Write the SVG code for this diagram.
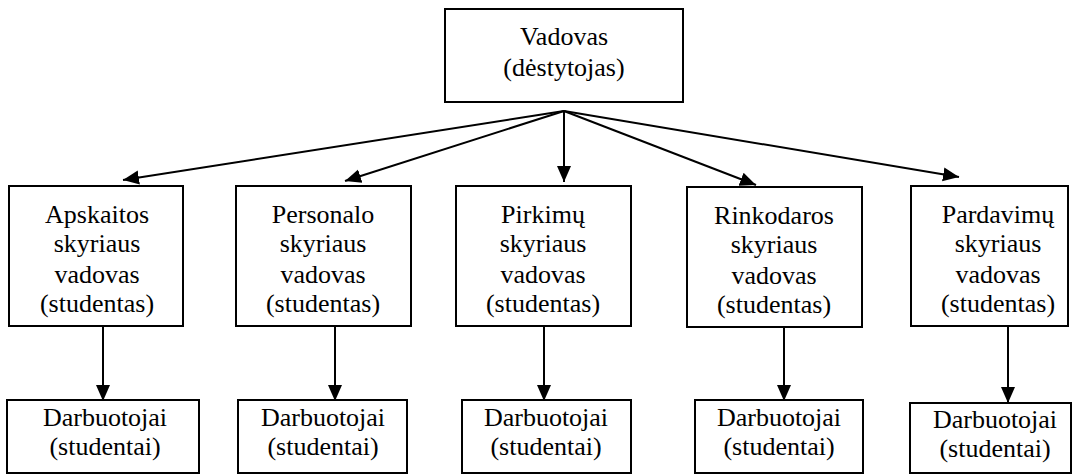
<svg xmlns="http://www.w3.org/2000/svg" width="1074" height="475" viewBox="0 0 1074 475">
<style>
rect{fill:#fff;stroke:#000;stroke-width:2}
text{font-size:26px;fill:#000;text-anchor:middle}
#connectors line{stroke:#000;stroke-width:2}
</style>
<defs>
<marker id="ah" markerUnits="userSpaceOnUse" markerWidth="16" markerHeight="16" viewBox="0 0 16 16" refX="16" refY="8" orient="auto">
<path d="M0,1 L16,8 L0,15 Z" fill="#000"/>
</marker>
</defs>
<rect x="0" y="0" width="1074" height="475" style="stroke:none"/>
<g id="connectors">
<line x1="564" y1="111" x2="123" y2="180" marker-end="url(#ah)"/>
<line x1="564" y1="111" x2="345" y2="181" marker-end="url(#ah)"/>
<line x1="564" y1="111" x2="564" y2="182" marker-end="url(#ah)"/>
<line x1="564" y1="111" x2="756" y2="185" marker-end="url(#ah)"/>
<line x1="564" y1="111" x2="959" y2="177" marker-end="url(#ah)"/>
<line x1="103" y1="326" x2="103" y2="401" marker-end="url(#ah)"/>
<line x1="335" y1="326" x2="335" y2="401" marker-end="url(#ah)"/>
<line x1="544" y1="326" x2="544" y2="401" marker-end="url(#ah)"/>
<line x1="784" y1="327" x2="784" y2="401" marker-end="url(#ah)"/>
<line x1="1008" y1="326" x2="1008" y2="403" marker-end="url(#ah)"/>
</g>
<g font-family="Liberation Serif, serif">
<g id="top"><rect x="445" y="9" width="238" height="93"/><text x="564" y="45">Vadovas</text><text x="564" y="76">(dėstytojas)</text></g>
<g id="m1"><rect x="9" y="186" width="174" height="140"/><text x="97" y="223">Apskaitos</text><text x="97" y="252">skyriaus</text><text x="97" y="283">vadovas</text><text x="97" y="312">(studentas)</text></g>
<g id="m2"><rect x="236" y="186" width="175" height="140"/><text x="323" y="223">Personalo</text><text x="323" y="252">skyriaus</text><text x="323" y="283">vadovas</text><text x="323" y="312">(studentas)</text></g>
<g id="m3"><rect x="456" y="186" width="175" height="140"/><text x="543" y="223">Pirkimų</text><text x="543" y="252">skyriaus</text><text x="543" y="283">vadovas</text><text x="543" y="312">(studentas)</text></g>
<g id="m4"><rect x="687" y="187" width="175" height="140"/><text x="774" y="224">Rinkodaros</text><text x="774" y="253">skyriaus</text><text x="774" y="284">vadovas</text><text x="774" y="313">(studentas)</text></g>
<g id="m5"><rect x="911" y="186" width="157" height="140"/><text x="998" y="223">Pardavimų</text><text x="998" y="252">skyriaus</text><text x="998" y="283">vadovas</text><text x="998" y="312">(studentas)</text></g>
<g id="w1"><rect x="7" y="400" width="192" height="73"/><text x="105" y="426">Darbuotojai</text><text x="105" y="455">(studentai)</text></g>
<g id="w2"><rect x="238" y="400" width="169" height="73"/><text x="323" y="426">Darbuotojai</text><text x="323" y="455">(studentai)</text></g>
<g id="w3"><rect x="462" y="400" width="169" height="73"/><text x="546" y="426">Darbuotojai</text><text x="546" y="455">(studentai)</text></g>
<g id="w4"><rect x="695" y="400" width="168" height="73"/><text x="779" y="426">Darbuotojai</text><text x="779" y="455">(studentai)</text></g>
<g id="w5"><rect x="910" y="403" width="161" height="70"/><text x="995" y="428">Darbuotojai</text><text x="995" y="457">(studentai)</text></g>
</g>
</svg>
